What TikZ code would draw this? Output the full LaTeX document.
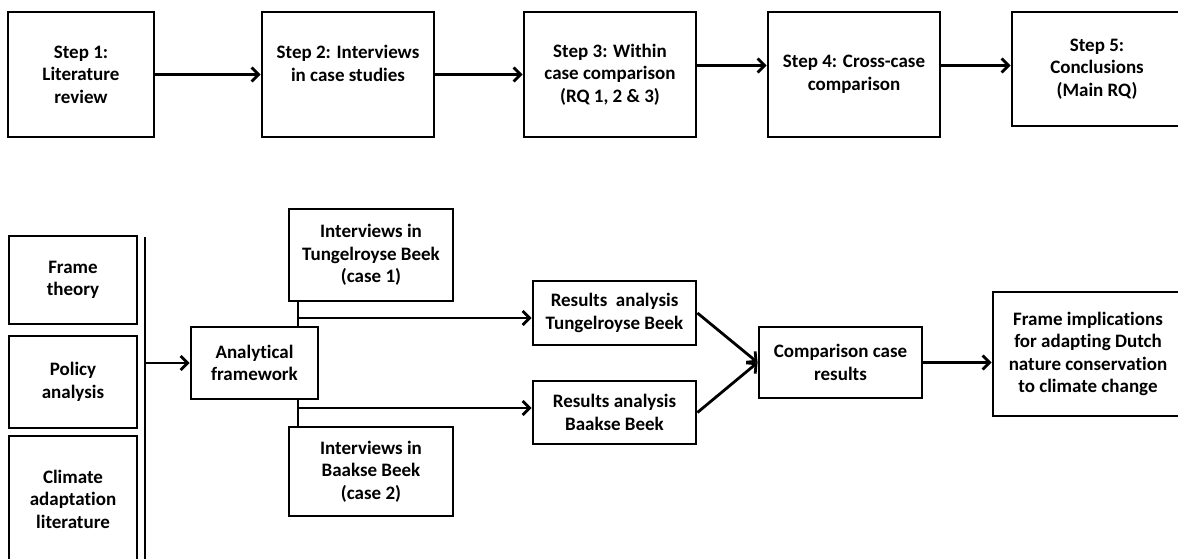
\documentclass[tikz,border=0pt]{standalone}
\usepackage{fontspec}
\setmainfont[Ligatures=NoCommon]{Carlito}
\usepackage{tikz}
\usetikzlibrary{arrows.meta,positioning,calc}

\begin{document}
\begin{tikzpicture}[
    x=1pt, y=-1pt,
    every node/.style={font=\fontsize{19}{22.5}\selectfont\bfseries},
    block/.style={rectangle, draw=black, line width=2.8pt, inner sep=2pt, align=center},
    line/.style={line width=2.8pt},
    arrow/.style={line width=2.8pt, -{Straight Barb[length=7pt, width=14pt]}}
]
    \clip (0,0) rectangle (1178,558);

    % Steps
    \node[block, minimum width=146, minimum height=125] (step1) at (81,74.5) {Step 1:\\Literature\\review};
    \node[block, minimum width=172, minimum height=125] (step2) at (348,74.5) {Step 2: Interviews\\in case studies\\\mbox{}};
    \node[block, minimum width=172, minimum height=125] (step3) at (610,74.5) {Step 3: Within\\case comparison\\(RQ 1, 2 \& 3)};
    \node[block, minimum width=172, minimum height=125] (step4) at (854,74.5) {Step 4: Cross-case\\comparison};
    \node[block, minimum width=170, minimum height=114] (step5) at (1097,69) {Step 5:\\Conclusions\\(Main RQ)};

    % Literature
    \node[block, minimum width=128, minimum height=88] (frame) at (73,280) {Frame\\theory};
    \node[block, minimum width=128, minimum height=92] (policy) at (73,382) {Policy\\analysis};
    \node[block, minimum width=128, minimum height=126] (climate) at (73,499) {Climate\\adaptation\\literature};
    \coordinate (bartop) at (145,237);
    \coordinate (barbot) at (145,562);

    % Analysis
    \node[block, minimum width=127, minimum height=72] (framework) at (254.5,363) {Analytical\\framework};
    \node[block, minimum width=164, minimum height=92] (intT) at (371,255) {Interviews in\\Tungelroyse Beek\\(case 1)};
    \node[block, minimum width=164, minimum height=89] (intB) at (371,471.5) {Interviews in\\Baakse Beek\\(case 2)};
    \node[block, minimum width=163, minimum height=64] (resT) at (614.5,313) {Results\ \ analysis\\Tungelroyse Beek};
    \node[block, minimum width=163, minimum height=63] (resB) at (614.5,412.5) {Results analysis\\Baakse Beek};
    \node[block, minimum width=163, minimum height=71] (compare) at (840.5,362.5) {Comparison case\\results};
    \node[block, minimum width=190, minimum height=124] (implic) at (1088,354) {Frame implications\\for adapting Dutch\\nature conservation\\to climate change};
    \coordinate (joinT) at (298,318);
    \coordinate (joinB) at (298,408);

    % Arrows
    \draw[arrow] (step1) -- (step2);
    \draw[arrow] (step2) -- (step3);
    \draw[arrow] ([yshift=9pt]step3.east) -- ([yshift=9pt]step4.west);
    \draw[arrow] ([yshift=9pt]step4.east) -- ([yshift=9pt]step4.east -| step5.west);

    \draw[line] (bartop) -- (barbot);
    \draw[arrow] (bartop |- framework.west) -- (framework.west);
    \draw[line] (joinT |- intT.south) -- (joinT |- framework.north);
    \draw[line] (joinB |- framework.south) -- (joinB |- intB.north);
    \draw[arrow] (joinT) -- (joinT -| resT.west);
    \draw[arrow] (joinB) -- (joinB -| resB.west);
    \draw[arrow] (resT.east) -- (compare.west);
    \draw[arrow] (resB.east) -- (compare.west);
    \draw[arrow] (compare.east) -- (compare.east -| implic.west);

\end{tikzpicture}
\end{document}
